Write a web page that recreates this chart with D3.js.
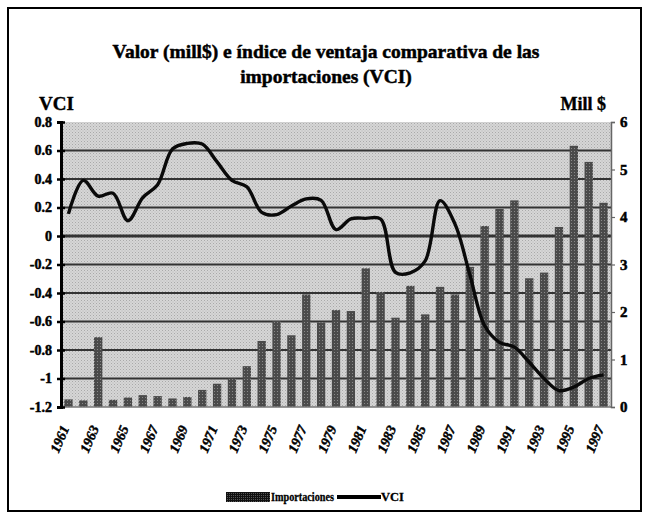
<!DOCTYPE html>
<html>
<head>
<meta charset="utf-8">
<script src="https://cdn.jsdelivr.net/npm/d3@7/dist/d3.min.js"></script>
<style>
  html, body { margin: 0; padding: 0; background: #fff; }
  svg { display: block; }
  text { font-family: "Liberation Serif", "DejaVu Serif", serif; font-weight: bold; fill: #000; }
</style>
</head>
<body>
<svg id="chart" width="649" height="532"></svg>
<script>
// Categories: years shown along the x axis
const years = [1961, 1962, 1963, 1964, 1965, 1966, 1967, 1968, 1969, 1970,
  1971, 1972, 1973, 1974, 1975, 1976, 1977, 1978, 1979, 1980,
  1981, 1982, 1983, 1984, 1985, 1986, 1987, 1988, 1989, 1990,
  1991, 1992, 1993, 1994, 1995, 1996, 1997];

// Import value, millions of dollars (right axis)
const importaciones = [0.16, 0.14, 1.47, 0.15, 0.20, 0.25, 0.23, 0.18, 0.21, 0.36,
  0.49, 0.60, 0.86, 1.39, 1.81, 1.51, 2.37, 1.78, 2.04, 2.02,
  2.92, 2.42, 1.88, 2.55, 1.95, 2.53, 2.37, 2.95, 3.81, 4.17,
  4.35, 2.71, 2.83, 3.79, 5.50, 5.16, 4.30];

// Comparative advantage index of imports (left axis)
const vci = [0.155, 0.39, 0.28, 0.30, 0.107, 0.27, 0.36, 0.61, 0.65, 0.645,
  0.52, 0.39, 0.345, 0.166, 0.150, 0.21, 0.26, 0.25, 0.045, 0.12,
  0.124, 0.119, -0.255, -0.258, -0.175, 0.248, 0.085, -0.27, -0.63, -0.746,
  -0.78, -0.886, -1.0, -1.085, -1.06, -1.0, -0.975];

// Tick values and labels
const vciTicks = [0.8, 0.6, 0.4, 0.2, 0, -0.2, -0.4, -0.6, -0.8, -1, -1.2];
const vciTickLabels = ["0.8", "0.6", "0.4", "0.2", "0", "-0.2", "-0.4", "-0.6", "-0.8", "-1", "-1.2"];
const millTicks = [0, 1, 2, 3, 4, 5, 6];
const millTickLabels = ["0", "1", "2", "3", "4", "5", "6"];
const yearLabels = [1961, 1963, 1965, 1967, 1969, 1971, 1973, 1975, 1977, 1979,
  1981, 1983, 1985, 1987, 1989, 1991, 1993, 1995, 1997];

const titleLines = ["Valor (mill$) e índice de ventaja comparativa de las", "importaciones (VCI)"];

const svg = d3.select("#chart");
const plot = { left: 61, right: 611, top: 122, bottom: 407 };

// Halftone-style fills
const defs = svg.append("defs");
const bgPat = defs.append("pattern").attr("id", "bgPat")
  .attr("width", 3).attr("height", 3).attr("patternUnits", "userSpaceOnUse");
bgPat.append("rect").attr("width", 3).attr("height", 3).attr("fill", "#d6d6d6");
bgPat.append("rect").attr("x", 0).attr("y", 0).attr("width", 1).attr("height", 1).attr("fill", "#a9a9a9");
bgPat.append("rect").attr("x", 1.5).attr("y", 1.5).attr("width", 1).attr("height", 1).attr("fill", "#b8b8b8");

const barPat = defs.append("pattern").attr("id", "barPat")
  .attr("width", 3).attr("height", 3).attr("patternUnits", "userSpaceOnUse");
barPat.append("rect").attr("width", 3).attr("height", 3).attr("fill", "#4a4a4a");
barPat.append("rect").attr("x", 1).attr("y", 1).attr("width", 1).attr("height", 1).attr("fill", "#888");

const legPat = defs.append("pattern").attr("id", "legPat")
  .attr("width", 2).attr("height", 2).attr("patternUnits", "userSpaceOnUse");
legPat.append("rect").attr("width", 2).attr("height", 2).attr("fill", "#111");
legPat.append("rect").attr("x", 1).attr("y", 1).attr("width", 1).attr("height", 1).attr("fill", "#555");

// Outer frame
svg.append("rect").attr("x", 8).attr("y", 8).attr("width", 633).attr("height", 503)
  .attr("fill", "#fff").attr("stroke", "#000").attr("stroke-width", 2);

// Scales
const x = d3.scaleBand().domain(years).range([plot.left, plot.right])
  .paddingInner(0.44).paddingOuter(0.22);
const yL = d3.scaleLinear().domain([-1.2, 0.8]).range([plot.bottom, plot.top]);
const yR = d3.scaleLinear().domain([0, 6]).range([plot.bottom, plot.top]);

// Plot area background
svg.append("rect").attr("x", plot.left).attr("y", plot.top)
  .attr("width", plot.right - plot.left).attr("height", plot.bottom - plot.top)
  .attr("fill", "url(#bgPat)");

// Horizontal gridlines on the VCI ticks
svg.append("g").selectAll("line")
  .data(vciTicks.filter(d => d !== 0.8 && d !== -1.2))
  .join("line")
  .attr("x1", plot.left).attr("x2", plot.right)
  .attr("y1", d => yL(d)).attr("y2", d => yL(d))
  .attr("stroke", "#333")
  .attr("stroke-width", d => d === 0 ? 3.2 : 1.8);

// Import bars
svg.append("g").selectAll("rect")
  .data(years.map((yr, i) => ({ yr, v: importaciones[i] })))
  .join("rect")
  .attr("x", d => x(d.yr))
  .attr("width", x.bandwidth())
  .attr("y", d => yR(d.v))
  .attr("height", d => yR(0) - yR(d.v))
  .attr("fill", "url(#barPat)");

// VCI line
const line = d3.line()
  .x((d, i) => x(years[i]) + x.bandwidth() / 2)
  .y(d => yL(d))
  .curve(d3.curveCatmullRom.alpha(0.5));
svg.append("path").datum(vci)
  .attr("d", line)
  .attr("fill", "none")
  .attr("stroke", "#0a0a0a")
  .attr("stroke-width", 3.4)
  .attr("stroke-linejoin", "round");

// Bottom axis line
svg.append("line").attr("x1", plot.left).attr("x2", plot.right)
  .attr("y1", plot.bottom).attr("y2", plot.bottom)
  .attr("stroke", "#777").attr("stroke-width", 1.5);

// Left axis (VCI) with cross ticks
const leftAxis = d3.axisLeft(yL).tickValues(vciTicks)
  .tickFormat((d, i) => vciTickLabels[i]).tickSize(4).tickPadding(5);
const gL = svg.append("g").attr("transform", `translate(${plot.left},0)`).call(leftAxis);
gL.attr("font-family", null).attr("font-size", null);
gL.select(".domain").attr("stroke", "#000").attr("stroke-width", 3);
gL.selectAll(".tick line").attr("x1", 4).attr("x2", -4).attr("stroke", "#000").attr("stroke-width", 2.5);
gL.selectAll(".tick text").style("font-size", "14px")
  .style("stroke", "#000").style("stroke-width", 0.5);

// Right axis (Mill $)
const rightAxis = d3.axisRight(yR).tickValues(millTicks)
  .tickFormat((d, i) => millTickLabels[i]).tickSize(4).tickPadding(5);
const gR = svg.append("g").attr("transform", `translate(${plot.right},0)`).call(rightAxis);
gR.attr("font-family", null).attr("font-size", null);
gR.select(".domain").attr("stroke", "#666").attr("stroke-width", 1.5);
gR.selectAll(".tick line").attr("stroke", "#666").attr("stroke-width", 1.2);
gR.selectAll(".tick text").style("font-size", "15px")
  .style("stroke", "#000").style("stroke-width", 0.5);

// Year labels, rotated
svg.append("g").selectAll("text")
  .data(yearLabels)
  .join("text")
  .attr("transform", d => `translate(${x(d) + x.bandwidth() / 2 + 1},428) rotate(-67)`)
  .attr("text-anchor", "end")
  .style("font-size", "14px")
  .style("font-style", "italic")
  .style("stroke", "#000").style("stroke-width", 0.4)
  .text(d => d);

// Title
svg.append("g").selectAll("text")
  .data(titleLines)
  .join("text")
  .attr("x", 326)
  .attr("y", (d, i) => 58 + i * 25)
  .attr("text-anchor", "middle")
  .style("font-size", "19.5px")
  .style("stroke", "#000").style("stroke-width", 0.5)
  .text(d => d);

// Axis titles
svg.append("text").attr("x", 39).attr("y", 110).style("font-size", "19px")
  .style("stroke", "#000").style("stroke-width", 0.4).text("VCI");
svg.append("text").attr("x", 606).attr("y", 110).attr("text-anchor", "end")
  .style("font-size", "18px").style("stroke", "#000").style("stroke-width", 0.4).text("Mill $");

// Legend
const legY = 497;
svg.append("rect").attr("x", 226).attr("y", legY - 5).attr("width", 44).attr("height", 10)
  .attr("fill", "url(#legPat)");
svg.append("text").attr("x", 271).attr("y", legY + 4).style("font-size", "12.5px")
  .style("stroke", "#000").style("stroke-width", 0.3)
  .attr("textLength", 63).attr("lengthAdjust", "spacingAndGlyphs").text("Importaciones");
svg.append("line").attr("x1", 337).attr("x2", 381).attr("y1", legY).attr("y2", legY)
  .attr("stroke", "#000").attr("stroke-width", 4);
svg.append("text").attr("x", 381).attr("y", legY + 4).style("font-size", "12.5px")
  .style("stroke", "#000").style("stroke-width", 0.3).text("VCI");
</script>
</body>
</html>
